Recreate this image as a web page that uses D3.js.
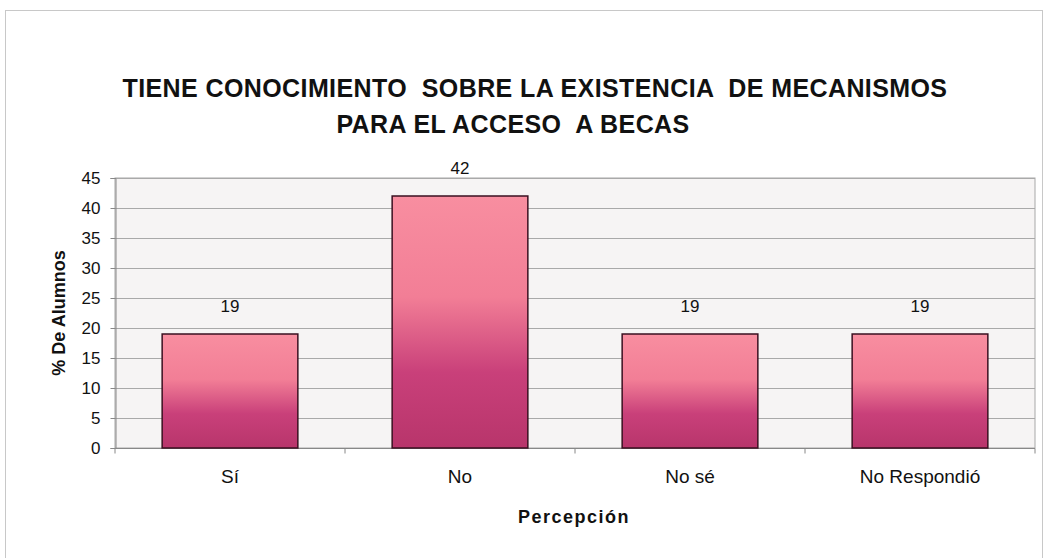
<!DOCTYPE html>
<html>
<head>
<meta charset="utf-8">
<script src="https://cdn.jsdelivr.net/npm/d3@7"></script>
<style>
body{ margin:0; background:#fff; }
svg text{ font-family: Arial, "Liberation Sans", sans-serif; fill:#111; }
</style>
</head>
<body>
<div id="chart"></div>
<script>
var categories = ["Sí", "No", "No sé", "No Respondió"];
var values = [19, 42, 19, 19];
var yTicks = [0, 5, 10, 15, 20, 25, 30, 35, 40, 45];
var titleLines = ["TIENE CONOCIMIENTO  SOBRE LA EXISTENCIA  DE MECANISMOS", "PARA EL ACCESO  A BECAS"];

var width = 1046, height = 558;
var plot = {left:115, right:1035, top:178, bottom:448};

var svg = d3.select('#chart').append('svg')
	.attr('width', width)
	.attr('height', height);

// gradient for the bars
var grad = svg.append('defs').append('linearGradient')
	.attr('id', 'barGrad')
	.attr('x1', 0).attr('y1', 0).attr('x2', 0).attr('y2', 1);
grad.append('stop').attr('offset', '0%').attr('stop-color', '#f88ea0');
grad.append('stop').attr('offset', '40%').attr('stop-color', '#f27e96');
grad.append('stop').attr('offset', '70%').attr('stop-color', '#c9407a');
grad.append('stop').attr('offset', '100%').attr('stop-color', '#b8356b');

// outer frame
svg.append('rect')
	.attr('x', 5.5).attr('y', 10.5)
	.attr('width', 1037).attr('height', 560)
	.attr('fill', '#fff')
	.attr('stroke', '#c8c8c8');

var x = d3.scaleBand()
	.domain(categories)
	.range([plot.left, plot.right])
	.paddingInner(0.41)
	.paddingOuter(0.205);

var y = d3.scaleLinear()
	.domain([0, 45])
	.range([plot.bottom, plot.top]);

// plot background
svg.append('rect')
	.attr('x', plot.left).attr('y', plot.top)
	.attr('width', plot.right - plot.left)
	.attr('height', plot.bottom - plot.top)
	.attr('fill', '#f6f4f4')
	.attr('stroke', '#a8a8a8');

// gridlines
svg.append('g').selectAll('line').data(yTicks.slice(1)).enter().append('line')
	.attr('x1', plot.left).attr('x2', plot.right)
	.attr('y1', function(d){ return Math.round(y(d)) + 0.5; })
	.attr('y2', function(d){ return Math.round(y(d)) + 0.5; })
	.attr('stroke', '#a9a9a9')
	.attr('stroke-width', 1);

// y axis
var yAxis = svg.append('g')
	.attr('transform', 'translate(' + (plot.left + 0.5) + ',0)')
	.call(d3.axisLeft(y).tickValues(yTicks).tickSize(5).tickPadding(10));
yAxis.select('.domain').attr('stroke', '#888');
yAxis.selectAll('.tick line').attr('stroke', '#888');
yAxis.selectAll('text').style('font-size', '17px').attr('fill', '#111');

// x axis, ticks between categories
var xAxis = svg.append('g')
	.attr('transform', 'translate(0,' + (plot.bottom + 0.5) + ')');
xAxis.append('line')
	.attr('x1', plot.left).attr('x2', plot.right)
	.attr('stroke', '#888');
var step = x.step();
xAxis.selectAll('.sep').data(d3.range(categories.length + 1)).enter().append('line')
	.attr('class', 'sep')
	.attr('x1', function(d){ return plot.left + d * step; })
	.attr('x2', function(d){ return plot.left + d * step; })
	.attr('y1', 0).attr('y2', 5)
	.attr('stroke', '#888');
xAxis.selectAll('text').data(categories).enter().append('text')
	.attr('x', function(d){ return x(d) + x.bandwidth() / 2; })
	.attr('y', 34)
	.attr('text-anchor', 'middle')
	.style('font-size', '19px')
	.text(function(d){ return d; });

// bars
svg.append('g').selectAll('rect').data(values).enter().append('rect')
	.attr('x', function(d, i){ return x(categories[i]); })
	.attr('y', function(d){ return y(d); })
	.attr('width', x.bandwidth())
	.attr('height', function(d){ return y(0) - y(d); })
	.attr('fill', 'url(#barGrad)')
	.attr('stroke', '#3a1020')
	.attr('stroke-width', 1.5);

// value labels
svg.append('g').selectAll('text').data(values).enter().append('text')
	.attr('x', function(d, i){ return x(categories[i]) + x.bandwidth() / 2; })
	.attr('y', function(d){ return y(d) - 22; })
	.attr('text-anchor', 'middle')
	.style('font-size', '17px')
	.text(function(d){ return d; });

// title
var titleX = [535, 513];
svg.append('g').selectAll('text').data(titleLines).enter().append('text')
	.attr('x', function(d, i){ return titleX[i]; })
	.attr('y', function(d, i){ return 97 + i * 36; })
	.attr('text-anchor', 'middle')
	.style('font-size', '25px')
	.style('font-weight', 'bold')
	.style('letter-spacing', '0.4px')
	.style('white-space', 'pre')
	.text(function(d){ return d; });

// axis titles
svg.append('text')
	.attr('transform', 'translate(65,313) rotate(-90)')
	.attr('text-anchor', 'middle')
	.style('font-size', '18px')
	.style('font-weight', 'bold')
	.text('% De Alumnos');

svg.append('text')
	.attr('x', 574).attr('y', 523)
	.attr('text-anchor', 'middle')
	.style('font-size', '18px')
	.style('font-weight', 'bold')
	.style('letter-spacing', '1.5px')
	.text('Percepción');
</script>
</body>
</html>
